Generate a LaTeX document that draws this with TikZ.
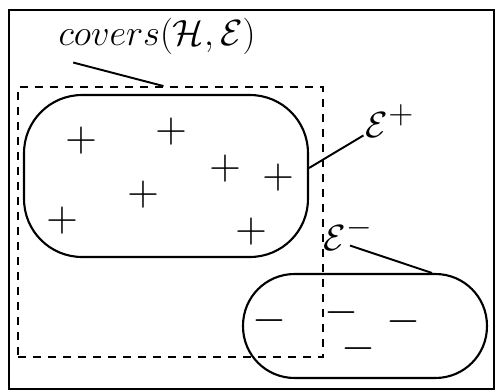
\documentclass[tikz,border=0pt]{standalone}
\usepackage{amsmath}
\usepackage{amssymb}
\usetikzlibrary{positioning, calc}

\begin{document}
\begin{tikzpicture}[
    x=0.02cm, y=-0.02cm,
    frame/.style={draw, line width=1pt, inner sep=0pt},
    region/.style={draw, line width=1.2pt, inner sep=0pt},
    cover/.style={draw, dash pattern=on 0.16cm off 0.14cm, line width=1.1pt, inner sep=0pt},
    label/.style={font=\fontsize{21}{25}\selectfont, inner sep=0pt},
    sample/.style={font=\fontsize{23}{26}\selectfont, inner sep=0pt},
    leader/.style={line width=1.1pt}
]
\useasboundingbox (0,0) rectangle (497,392);
\node[frame, minimum width=9.7cm, minimum height=7.58cm] (frame) at (251.5,199.5) {};
\node[region, minimum width=5.68cm, minimum height=3.24cm, rounded corners=1.16cm] (pos) at (166,176) {};
\node[region, minimum width=4.88cm, minimum height=2.08cm, rounded corners=1.03cm] (neg) at (365,326) {};
\node[cover, minimum width=6.1cm, minimum height=5.4cm] (cover) at (170.5,222) {};
% labels
\node[label] (coverlabel) at (157,36) {$covers(\mathcal{H},\mathcal{E})$};
\node[label] (poslabel)   at (390,121) {$\mathcal{E}^{\scalebox{1.3}{$\scriptstyle +$}}$};
\node[label] (neglabel)   at (348,234) {$\mathcal{E}^{\scalebox{1.3}{$\scriptstyle -$}}$};
% examples
\node[sample] (p1) at (81,141)  {$+$};
\node[sample] (p2) at (171,132) {$+$};
\node[sample] (p3) at (225,169) {$+$};
\node[sample] (p4) at (278,178) {$+$};
\node[sample] (p5) at (143,195) {$+$};
\node[sample] (p6) at (62,221)  {$+$};
\node[sample] (p7) at (251,232) {$+$};
\node[sample] (n1) at (269,321) {$-$};
\node[sample] (n2) at (341,313) {$-$};
\node[sample] (n3) at (403,322) {$-$};
\node[sample] (n4) at (358,349) {$-$};
% leaders
\draw[leader] ($(coverlabel.south west)+(15,8)$) -- ($(cover.north)+(-7,0)$);
\draw[leader] ($(pos.east)+(0,-8)$) -- ($(poslabel.south west)+(-2,-2)$);
\draw[leader] ($(neglabel.south)+(2,-5)$) -- ($(neg.north)+(67,0)$);
\end{tikzpicture}
\end{document}
